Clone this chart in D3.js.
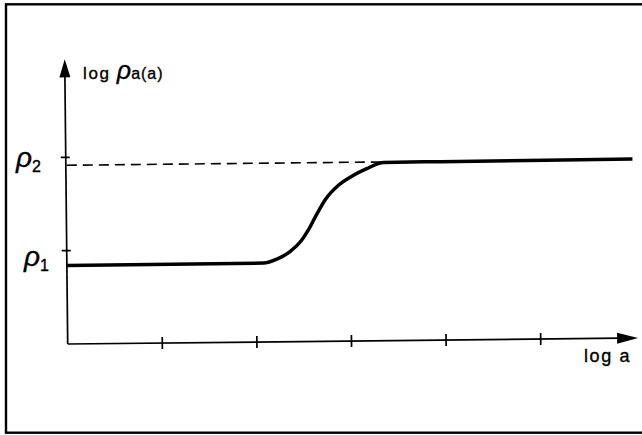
<!DOCTYPE html>
<html>
<head>
<meta charset="utf-8">
<script src="https://cdn.jsdelivr.net/npm/d3@7"></script>
<style>
  html, body { margin: 0; padding: 0; background: #fff; }
  svg { display: block; }
  text { font-family: "Liberation Sans", Arial, sans-serif; fill: #000; stroke: #000; stroke-width: 0.35; }
</style>
</head>
<body>
<svg id="chart" width="642" height="435"></svg>
<script>
// ---- data (log a units on x, log rho_a in units where rho1 = 1, rho2 = 2) ----
const curveX = [0, 2.08, 2.22, 2.36, 2.48, 2.56, 2.64, 2.74, 2.88, 3.03, 3.18, 3.36, 3.96, 5.99];
const curveY = [0.84, 0.845, 0.885, 0.965, 1.08, 1.2, 1.35, 1.52, 1.67, 1.77, 1.845, 1.91, 1.912, 1.92];
const asymptoteX = [0, 3.36];
const asymptoteY = 1.915;
const xTicks = [1, 2, 3, 4, 5];
const yTicks = [1, 2];
const yTickLabels = ["1", "2"];
const xAxisMax = 6.03;
const yAxisMax = 3.05;

const svg = d3.select("#chart");

// frame (right side is cropped off in the reference)
svg.append("rect")
  .attr("x", 6).attr("y", 4.3)
  .attr("width", 700).attr("height", 428.4)
  .attr("fill", "none").attr("stroke", "#000").attr("stroke-width", 2.4);

const origin = [67.7, 344];
const x = d3.scaleLinear().domain([0, 6]).range([0, 567.6]);
const y = d3.scaleLinear().domain([0, 3]).range([0, -280]);

const g = svg.append("g")
  .attr("transform", `translate(${origin[0]},${origin[1]}) rotate(-0.6)`);

// axes
g.append("line").attr("x1", 0).attr("y1", 0).attr("x2", x(xAxisMax) - 18).attr("y2", 0)
  .attr("stroke", "#000").attr("stroke-width", 1.7);
g.append("line").attr("x1", 0).attr("y1", 0).attr("x2", 0).attr("y2", y(yAxisMax) + 16)
  .attr("stroke", "#000").attr("stroke-width", 1.7);

// arrowheads
const xa = x(xAxisMax);
g.append("path").attr("d", `M${xa},0 L${xa - 21},-5.5 L${xa - 21},5.5 Z`).attr("fill", "#000");
const ya = y(yAxisMax);
g.append("path").attr("d", `M0,${ya} L-5.5,${ya + 18} L5.5,${ya + 18} Z`).attr("fill", "#000");

// x ticks (crossing)
g.selectAll(".xt").data(xTicks).join("line")
  .attr("x1", d => x(d)).attr("x2", d => x(d))
  .attr("y1", -6).attr("y2", 6)
  .attr("stroke", "#000").attr("stroke-width", 1.7);

// y ticks (crossing)
g.selectAll(".yt").data(yTicks).join("line")
  .attr("x1", -5).attr("x2", 4)
  .attr("y1", d => y(d)).attr("y2", d => y(d))
  .attr("stroke", "#000").attr("stroke-width", 1.7);

// dashed asymptote
g.append("line")
  .attr("x1", x(asymptoteX[0]) + 1).attr("x2", x(asymptoteX[1]))
  .attr("y1", y(asymptoteY)).attr("y2", y(asymptoteY))
  .attr("stroke", "#000").attr("stroke-width", 1.6)
  .attr("stroke-dasharray", "10,6");

// curve
const pts = curveX.map((v, i) => [v, curveY[i]]);
const line = d3.line().x(d => x(d[0])).y(d => y(d[1])).curve(d3.curveMonotoneX);
g.append("path").attr("d", line(pts))
  .attr("fill", "none").attr("stroke", "#000").attr("stroke-width", 3.5)
  .attr("stroke-linejoin", "round");

// y tick labels rho_1, rho_2
const labPos = [[24, 266], [16, 167]];
yTickLabels.forEach((s, i) => {
  const t = svg.append("text").attr("x", labPos[i][0]).attr("y", labPos[i][1]);
  t.append("tspan").attr("font-size", 28).attr("font-style", "italic").text("ρ");
  t.append("tspan").attr("font-size", 16).attr("dy", 5).text(s);
});

// axis titles
const yt = svg.append("text").attr("x", 83).attr("y", 79);
yt.append("tspan").attr("font-size", 17).attr("letter-spacing", 1.6).text("log ");
yt.append("tspan").attr("font-size", 25).attr("font-style", "italic").text("ρ");
yt.append("tspan").attr("font-size", 16).attr("letter-spacing", 1).text("a(a)");

svg.append("text").attr("x", 584).attr("y", 362)
  .attr("font-size", 18).attr("letter-spacing", 1.6).text("log a");
</script>
</body>
</html>
